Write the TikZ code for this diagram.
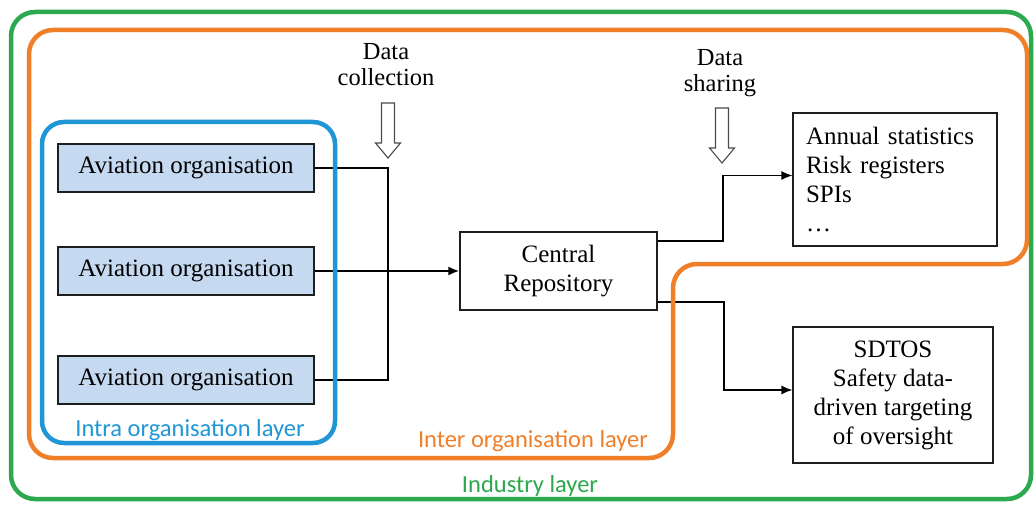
\documentclass[tikz,border=0pt]{standalone}
\usepackage{fontspec}
\setmainfont{Liberation Serif}
\newfontfamily\layerfont{Carlito}
\usetikzlibrary{arrows.meta}

\definecolor{orgfill}{RGB}{197,217,240}
\definecolor{industrygreen}{RGB}{44,168,78}
\definecolor{interorange}{RGB}{240,127,42}
\definecolor{intrablue}{RGB}{32,150,214}
\definecolor{boxline}{RGB}{30,30,30}

\tikzset{
  frame/.style={line width=4.5pt, rounded corners=24pt},
  orgbox/.style={draw=boxline, line width=1.2pt, fill=orgfill,
    minimum width=256pt, minimum height=48pt, inner sep=0pt,
    font=\fontsize{25}{28}\selectfont},
  plainbox/.style={draw=boxline, line width=1.2pt, fill=white,
    font=\fontsize{25}{29}\selectfont},
  link/.style={draw=black, line width=1.2pt},
  linkarrow/.style={link, -{Latex[length=11pt,width=9pt]}},
  layerlabel/.style={font=\layerfont\fontsize{24.5}{28}\selectfont, anchor=base},
  flowlabel/.style={align=center, font=\fontsize{24.5}{26}\selectfont, inner sep=0pt},
  pics/openarrow/.style={code={
    \draw[fill=white, draw=black!70, line width=1.1pt]
      (-6.5,0) -- (6.5,0) -- (6.5,40) -- (12.5,40) -- (0,55)
      -- (-12.5,40) -- (-6.5,40) -- cycle;}}
}

\begin{document}
\begin{tikzpicture}[x=1pt, y=-1pt]
  \useasboundingbox (0,0) rectangle (1036,505);
  \fill[white] (0,0) rectangle (1036,505);

  % aviation organisations
  \node[orgbox] (org1) at (186,168) {Aviation organisation};
  \node[orgbox] (org2) at (186,271) {Aviation organisation};
  \node[orgbox] (org3) at (186,380) {Aviation organisation};

  % central repository and outputs
  \node[plainbox, minimum width=197pt, minimum height=78pt, align=center, inner sep=0pt]
    (repo) at (558.5,271) {Central\\Repository};
  \node[plainbox, minimum width=204pt, minimum height=133pt, text width=178pt,
    inner xsep=13pt, inner ysep=0pt, align=left]
    (stats) at (895,179.5) {Annual statistics\\Risk registers\\SPIs\\\dots};
  \node[plainbox, minimum width=200pt, minimum height=136pt, align=center, inner sep=0pt]
    (sdtos) at (893,395) {SDTOS\\Safety data-\\driven targeting\\of oversight};

  % flow labels and open arrows
  \node[flowlabel] (collect) at (386,65) {Data\\collection};
  \node[flowlabel] (share) at (720,73) {Data\\sharing};
  \pic at (388,103) {openarrow};
  \pic at (722,108) {openarrow};

  % collection links
  \coordinate (join) at (388,271);
  \coordinate (upsplit) at (723,0);
  \coordinate (downsplit) at (724,0);
  \draw[link] (org1.east) -| (join);
  \draw[link] (org3.east) -| (join);
  \draw[link] (org2.east) -- (join);
  \draw[linkarrow, line width=2pt] (join) -- (repo.west);

  % sharing links
  \draw[linkarrow] ([yshift=30pt]repo.east) -- ([yshift=30pt]repo.east -| upsplit)
    |- ([yshift=4pt]stats.west);
  \draw[linkarrow] ([yshift=-31pt]repo.east) -- ([yshift=-31pt]repo.east -| downsplit)
    |- ([yshift=5pt]sdtos.west);

  % layer frames
  \draw[frame, draw=industrygreen] (11,12) rectangle (1031,499);
  \draw[frame, draw=interorange] (29,200) -- (29,30) -- (1027,30) -- (1027,264)
    -- (673,264) -- (673,458) -- (29,458) -- cycle;
  \draw[frame, draw=intrablue, rounded corners=22pt] (42,122) rectangle (335,443);

  % layer labels
  \node[layerlabel, text=intrablue] (intra) at (190,436) {Intra organisation layer};
  \node[layerlabel, text=interorange] (inter) at (533,447) {Inter organisation layer};
  \node[layerlabel, text=industrygreen] (industry) at (530,492) {Industry layer};
\end{tikzpicture}
\end{document}
